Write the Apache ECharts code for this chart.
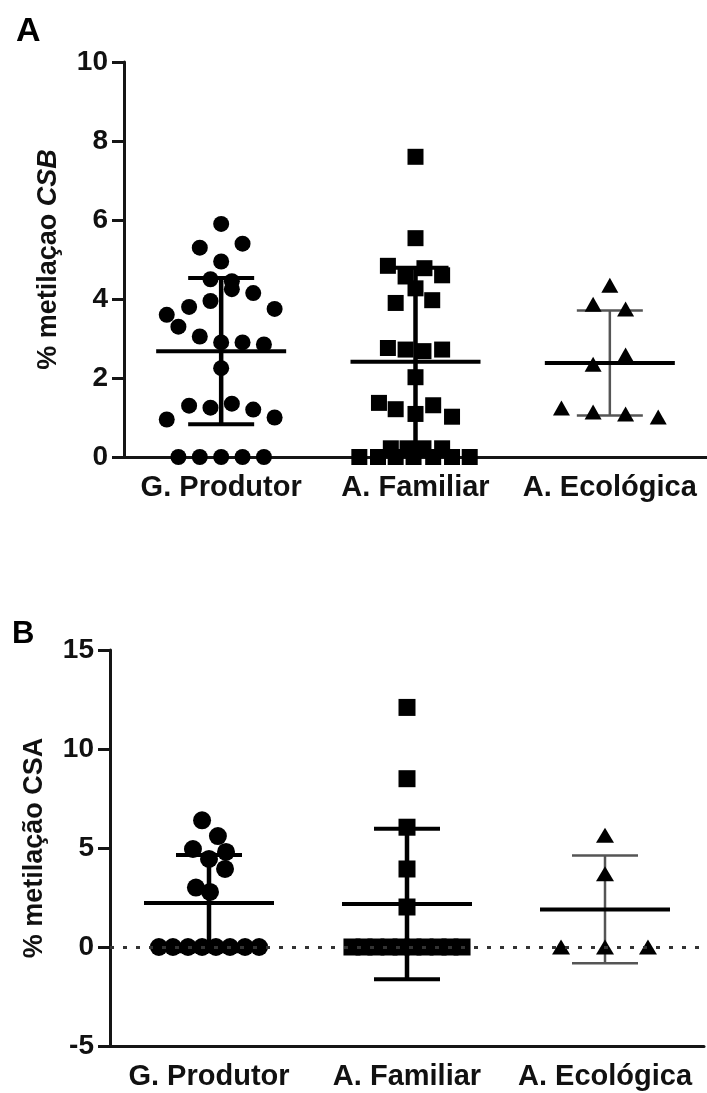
<!DOCTYPE html>
<html><head><meta charset="utf-8">
<script src="https://cdn.jsdelivr.net/npm/echarts@6/dist/echarts.min.js"></script>
<style>html,body{margin:0;padding:0;background:#fff}#c{width:707px;height:1093px}</style>
</head><body><div id="c"></div>
<script>
// ---------- data ----------
const categories = ['G. Produtor', 'A. Familiar', 'A. Ecológica'];

// Panel A: % metilaçao CSB
const csbProdutor = [5.9,5.4,5.3,4.95,4.5,4.45,4.25,4.15,3.95,3.8,3.75,3.6,3.3,3.05,2.9,2.9,2.85,2.25,1.35,1.3,1.25,1.2,1.0,0.95,0,0,0,0,0];
const csbProdutorJitter = [0,0.11,-0.11,0,-0.055,0.055,0.055,0.165,-0.055,-0.165,0.275,-0.28,-0.22,-0.11,0,0.11,0.22,0,0.055,-0.165,-0.055,0.165,0.275,-0.28,-0.22,-0.11,0,0.11,0.22];
const csbFamiliar = [7.6,5.54,4.84,4.78,4.6,4.57,4.27,3.97,3.9,2.76,2.72,2.68,2.72,2.02,1.37,1.31,1.21,1.09,1.02,0.22,0.22,0.22,0.22,0,0,0,0,0,0,0];
const csbFamiliarJitter = [0,0,-0.142,0.046,0.137,-0.051,0,0.086,-0.102,-0.142,-0.051,0.041,0.137,0,-0.188,0.091,-0.102,0,0.188,-0.127,-0.041,0.041,0.137,-0.289,-0.193,-0.102,-0.01,0.091,0.188,0.279];
const csbEcologica = [4.35,3.87,3.75,2.58,2.35,1.24,1.14,1.09,1.01];
const csbEcologicaJitter = [0,-0.086,0.081,0.081,-0.086,-0.249,-0.086,0.081,0.249];
const csbMean = [2.68, 2.41, 2.38];
const csbSD = [1.85, 2.38, 1.33];

// Panel B: % metilação CSA
const csaProdutor = [6.4,5.6,4.95,4.8,4.45,3.94,3.0,2.78,0,0,0,0,0,0,0,0];
const csaProdutorJitter = [-0.035,0.045,-0.081,0.086,0,0.081,-0.066,0.005,-0.253,-0.182,-0.106,-0.035,0.035,0.106,0.182,0.253];
const csaFamiliar = [12.1,8.5,6.05,3.94,2.02,0,0,0,0,0,0,0,0,0,0];
const csaFamiliarJitter = [0,0,0,0,0,-0.278,-0.217,-0.157,-0.091,-0.03,0.03,0.091,0.157,0.217,0.278];
const csaEcologica = [5.65,3.7,0,0,0];
const csaEcologicaJitter = [0,0,-0.222,0,0.217];
const csaMean = [2.22, 2.17, 1.9];
const csaSD = [2.43, 3.8, 2.72];

const yTicksA = {min: 0, max: 10, interval: 2};
const yTicksB = {min: -5, max: 15, interval: 5};

// ---------- chart ----------
const FONT = 'Liberation Sans';
const chart = echarts.init(document.getElementById('c'), null, {renderer: 'canvas'});

function pts(values, jitter, cat) {
  return values.map((v, k) => [cat + jitter[k], v]);
}
function summary(means, sds) {
  return means.map((m, i) => [i, m, sds[i]]);
}
function renderBars(params, api) {
  const i = api.value(0), m = api.value(1), s = api.value(2);
  const c = api.coord([i, m]);
  const top = api.coord([i, m + s]);
  const bot = api.coord([i, m - s]);
  const thin = i === 2;
  const ec = thin ? '#555' : '#000';
  const vw = thin ? 2.5 : 4.5;
  const cw = thin ? 2.5 : 4;
  return {type: 'group', children: [
    {type: 'line', shape: {x1: c[0], y1: top[1], x2: c[0], y2: bot[1]}, style: {stroke: ec, lineWidth: vw}},
    {type: 'line', shape: {x1: c[0] - 33, y1: top[1], x2: c[0] + 33, y2: top[1]}, style: {stroke: ec, lineWidth: cw}},
    {type: 'line', shape: {x1: c[0] - 33, y1: bot[1], x2: c[0] + 33, y2: bot[1]}, style: {stroke: ec, lineWidth: cw}},
    {type: 'line', shape: {x1: c[0] - 65, y1: c[1], x2: c[0] + 65, y2: c[1]}, style: {stroke: '#000', lineWidth: 4}}
  ]};
}

const axisColor = '#151515';
function catAxis(grid) {
  return {
    type: 'category', gridIndex: grid, data: categories, boundaryGap: true,
    axisLine: {onZero: false, lineStyle: {color: axisColor, width: 3}},
    axisTick: {alignWithLabel: true, length: 10, lineStyle: {color: axisColor, width: 3}},
    axisLabel: {interval: 0, color: '#111', fontSize: 29, fontWeight: 'bold', fontFamily: FONT, margin: 16},
    splitLine: {show: false}
  };
}
function valXAxis(grid) {
  return {type: 'value', gridIndex: grid, min: -0.5, max: 2.5, show: false, splitLine: {show: false}};
}
function yAxis(grid, t, name, rich) {
  return {
    type: 'value', gridIndex: grid, min: t.min, max: t.max, interval: t.interval,
    name: name, nameLocation: 'middle', nameGap: 62, nameRotate: 90,
    nameTextStyle: {color: '#111', fontSize: 27, fontWeight: 'bold', fontFamily: FONT, rich: rich},
    axisLine: {show: true, onZero: false, lineStyle: {color: axisColor, width: 3}},
    axisTick: {show: true, length: 12, lineStyle: {color: axisColor, width: 3}},
    axisLabel: {color: '#111', fontSize: 28, fontWeight: 'bold', fontFamily: FONT, margin: 16},
    splitLine: {show: false}
  };
}
const richA = {
  a: {color: '#111', fontSize: 27, fontWeight: 'bold', fontFamily: FONT},
  b: {color: '#111', fontSize: 27, fontWeight: 'bold', fontStyle: 'italic', fontFamily: FONT}
};

function scatter(xi, yi, data, symbol, size) {
  return {type: 'scatter', xAxisIndex: xi, yAxisIndex: yi, data: data, symbol: symbol, symbolSize: size,
    itemStyle: {color: '#000', opacity: 1}, z: 4, silent: true, animation: false};
}

const option = {
  backgroundColor: '#fff',
  animation: false,
  title: [
    {text: 'A', left: 11, top: 10, textStyle: {fontSize: 34, fontWeight: 'bold', color: '#000', fontFamily: FONT}},
    {text: 'B', left: 7, top: 614, textStyle: {fontSize: 31, fontWeight: 'bold', color: '#000', fontFamily: FONT}}
  ],
  grid: [
    {left: 124, top: 62, width: 591, height: 395},
    {left: 110, top: 650, width: 594, height: 396}
  ],
  xAxis: [catAxis(0), valXAxis(0), catAxis(1), valXAxis(1)],
  yAxis: [
    yAxis(0, yTicksA, '{a|% metilaçao }{b|CSB}', richA),
    yAxis(1, yTicksB, '% metilação CSA', undefined)
  ],
  series: [
    {type: 'custom', xAxisIndex: 1, yAxisIndex: 0, data: summary(csbMean, csbSD), renderItem: renderBars, z: 3, silent: true},
    scatter(1, 0, pts(csbProdutor, csbProdutorJitter, 0), 'circle', 16),
    scatter(1, 0, pts(csbFamiliar, csbFamiliarJitter, 1), 'rect', 16),
    scatter(1, 0, pts(csbEcologica, csbEcologicaJitter, 2), 'triangle', [17, 15]),
    {type: 'line', xAxisIndex: 3, yAxisIndex: 1, data: [], z: 2, silent: true,
      markLine: {silent: true, symbol: 'none', label: {show: false},
        lineStyle: {type: [4, 9], color: '#333', width: 3}, data: [{yAxis: 0}]}},
    {type: 'custom', xAxisIndex: 3, yAxisIndex: 1, data: summary(csaMean, csaSD), renderItem: renderBars, z: 3, silent: true},
    scatter(3, 1, pts(csaProdutor, csaProdutorJitter, 0), 'circle', 18),
    scatter(3, 1, pts(csaFamiliar, csaFamiliarJitter, 1), 'rect', 17),
    scatter(3, 1, pts(csaEcologica, csaEcologicaJitter, 2), 'triangle', [18, 15])
  ]
};
chart.setOption(option);
</script>
</body></html>
